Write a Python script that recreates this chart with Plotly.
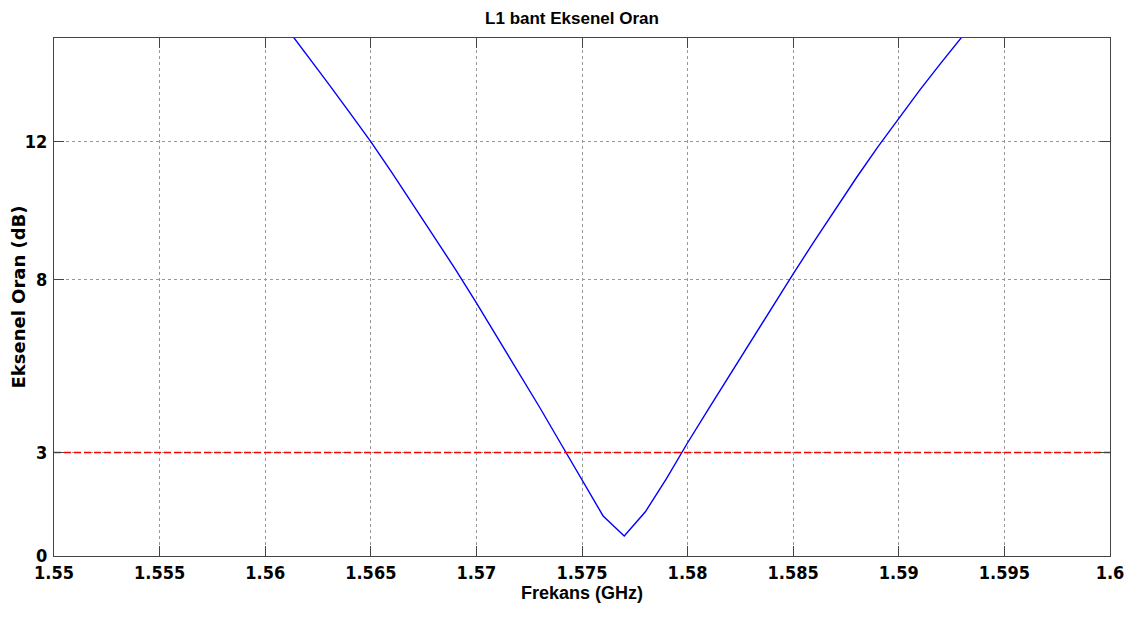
import plotly.graph_objects as go

freq_ghz = [1.561, 1.562, 1.563, 1.564, 1.565, 1.566, 1.567, 1.568, 1.569, 1.570,
            1.571, 1.572, 1.573, 1.574, 1.575, 1.576, 1.577, 1.578, 1.579, 1.580,
            1.581, 1.582, 1.583, 1.584, 1.585, 1.586, 1.587, 1.588, 1.589, 1.590,
            1.591, 1.592, 1.593]
axial_ratio_db = [15.3, 14.5, 13.67, 12.84, 12.0, 11.1, 10.18, 9.25, 8.31, 7.33,
                  6.33, 5.32, 4.3, 3.25, 2.21, 1.16, 0.58, 1.28, 2.24, 3.28,
                  4.27, 5.25, 6.23, 7.2, 8.17, 9.12, 10.05, 10.96, 11.84, 12.68,
                  13.5, 14.28, 15.04]
limit_x = [1.55, 1.6]
limit_db = [3, 3]

x_ticks = [1.55, 1.555, 1.56, 1.565, 1.57, 1.575, 1.58, 1.585, 1.59, 1.595, 1.6]
x_labels = ["1.55", "1.555", "1.56", "1.565", "1.57", "1.575", "1.58", "1.585", "1.59", "1.595", "1.6"]
y_ticks = [0, 3, 8, 12]
y_labels = ["0", "3", "8", "12"]

tick_font = dict(family="DejaVu Sans Condensed, Liberation Sans, Arial, sans-serif",
                 size=18, color="black", weight="bold")
title_font_fam = "Liberation Sans, Arial, sans-serif"

fig = go.Figure()
fig.add_trace(go.Scatter(x=freq_ghz, y=axial_ratio_db, mode="lines",
                         line=dict(color="#0000ff", width=1.4), showlegend=False))
fig.add_trace(go.Scatter(x=limit_x, y=limit_db, mode="lines",
                         line=dict(color="#ff0000", width=1.5, dash="7px,3px"), showlegend=False))

axis_common = dict(showline=True, linecolor="#444444", linewidth=1, mirror="ticks",
                   ticks="inside", ticklen=10, tickcolor="#444444",
                   showgrid=True, gridcolor="#999999", griddash="dot", gridwidth=1,
                   zeroline=False, automargin=False, tickfont=tick_font)

fig.update_xaxes(range=[1.55, 1.6], tickvals=x_ticks, ticktext=x_labels, ticklabelstandoff=0,
                 title=dict(text="Frekans (GHz)", standoff=1,
                            font=dict(family=title_font_fam, size=18, color="black", weight="bold")),
                 **axis_common)
fig.update_yaxes(range=[0, 15], tickvals=y_ticks, ticktext=y_labels, ticklabelstandoff=2,
                 title=dict(text="Eksenel Oran (dB)", standoff=8,
                            font=dict(family="DejaVu Sans, Liberation Sans, Arial, sans-serif",
                                      size=18, color="black", weight="bold")),
                 **axis_common)

fig.update_layout(
    width=1128, height=611,
    margin=dict(l=46, r=26, t=30, b=63),
    paper_bgcolor="white", plot_bgcolor="white",
    title=dict(text="L1 bant Eksenel Oran", x=0.5, xanchor="center", y=0.9836, yanchor="middle",
               pad=dict(t=0, b=0),
               font=dict(family=title_font_fam, size=17, color="black", weight="bold")),
)

fig.write_html("out.html")
